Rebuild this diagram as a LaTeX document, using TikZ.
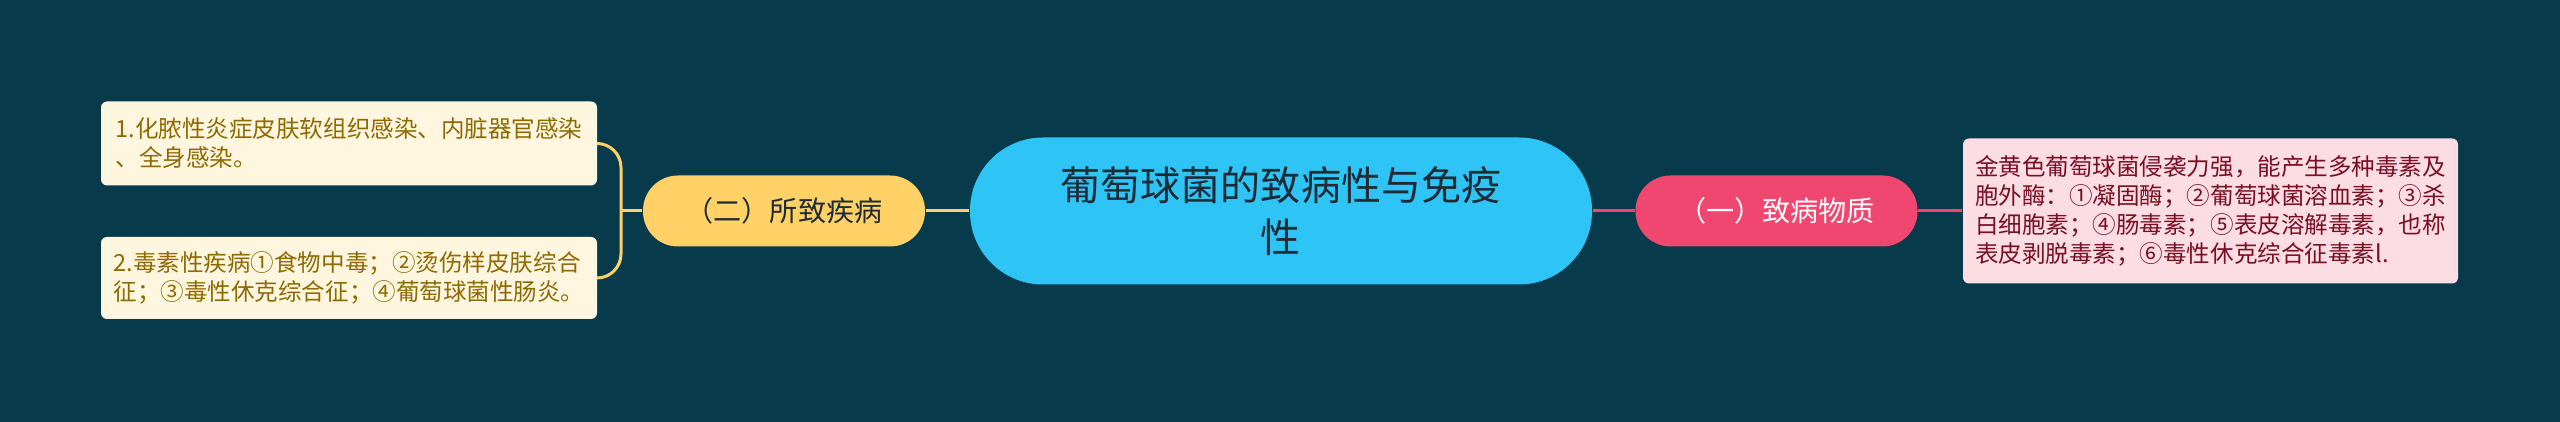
\documentclass[tikz,border=0pt]{standalone}
\usepackage{fontspec}
\newfontfamily\cjk{Noto Sans CJK SC}
\usepackage{xcolor}
\usepackage{tikz}
\definecolor{bgc}{HTML}{073B4C}
\definecolor{topicc}{HTML}{2EC4F5}
\definecolor{topictxt}{HTML}{1E2B36}
\definecolor{yelc}{HTML}{FFD166}
\definecolor{pinkc}{HTML}{EF476F}
\definecolor{yleaf}{HTML}{FFF6E0}
\definecolor{yleaftxt}{HTML}{8F6A00}
\definecolor{pleaf}{HTML}{FDDDE4}
\definecolor{pleaftxt}{HTML}{7A0E24}
\tikzset{
topic/.style={rectangle,rounded corners=0.73cm,fill=topicc,text=topictxt,minimum width=6.22cm,minimum height=1.47cm,align=center,font=\cjk\fontsize{11.4}{14.8}\selectfont},
branch/.style={rectangle,rounded corners=0.35cm,minimum width=2.82cm,minimum height=0.71cm,font=\cjk\fontsize{8}{10}\selectfont},
leaf/.style={rectangle,rounded corners=0.06cm,align=left,font=\cjk\fontsize{6.7}{8.3}\selectfont},
link/.style={line width=0.03cm}
}

\begin{document}
\begin{tikzpicture}
\useasboundingbox (0,0) rectangle (25.6,4.22);
\fill[bgc] (0,0) rectangle (25.6,4.22);
\node[topic] (zbx) at (12.81,2.11){葡萄球菌的致病性与免疫\\性};
\node[branch,fill=yelc,text=topictxt] (szjb) at (7.84,2.11){（二）所致疾病};
\node[branch,fill=pinkc,text=white] (zbwz) at (17.765,2.11){（一）致病物质};
\node[leaf,fill=pleaf,text=pleaftxt,minimum width=4.95cm,minimum height=1.45cm] (wz) at (22.105,2.11){金黄色葡萄球菌侵袭力强，能产生多种毒素及\\胞外酶：①凝固酶；②葡萄球菌溶血素；③杀\\白细胞素；④肠毒素；⑤表皮溶解毒素，也称\\表皮剥脱毒素；⑥毒性休克综合征毒素l.};
\node[leaf,fill=yleaf,text=yleaftxt,minimum width=4.96cm,minimum height=0.84cm] (jb1) at (3.49,2.785){1.化脓性炎症皮肤软组织感染、内脏器官感染\\、全身感染。};
\node[leaf,fill=yleaf,text=yleaftxt,minimum width=4.96cm,minimum height=0.82cm] (jb2) at (3.49,1.44){2.毒素性疾病①食物中毒；②烫伤样皮肤综合\\征；③毒性休克综合征；④葡萄球菌性肠炎。};
\draw[link,yelc] (zbx.west) -- (szjb.east);
\draw[link,yelc] (szjb.west) -- (6.21,2.11) coordinate (fork);
\draw[link,yelc,rounded corners=0.24cm] (fork) |- (jb1.east);
\draw[link,yelc,rounded corners=0.24cm] (fork) |- (jb2.east);
\draw[link,pinkc] (zbx.east) -- (zbwz.west);
\draw[link,pinkc] (zbwz.east) -- (wz.west);
\end{tikzpicture}
\end{document}
